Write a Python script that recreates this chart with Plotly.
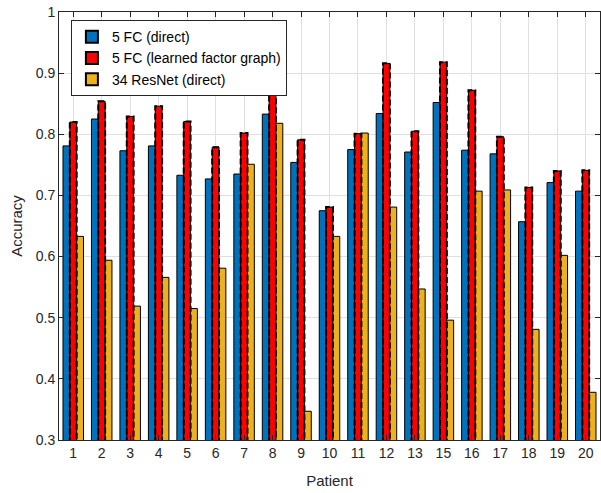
import plotly.graph_objects as go

# Patient IDs (patient 14 is absent)
patients = ["1", "2", "3", "4", "5", "6", "7", "8", "9", "10",
            "11", "12", "13", "15", "16", "17", "18", "19", "20"]

# Accuracy per patient
fc_direct = [0.781, 0.825, 0.773, 0.781, 0.733, 0.727, 0.735, 0.833, 0.754, 0.675,
             0.775, 0.834, 0.771, 0.852, 0.774, 0.768, 0.657, 0.721, 0.707]
fc_factor_graph = [0.820, 0.854, 0.829, 0.846, 0.821, 0.779, 0.802, 0.895, 0.791, 0.681,
                   0.801, 0.916, 0.805, 0.918, 0.872, 0.796, 0.713, 0.740, 0.741]
resnet_direct = [0.633, 0.594, 0.519, 0.566, 0.515, 0.581, 0.751, 0.818, 0.347, 0.633,
                 0.802, 0.681, 0.547, 0.496, 0.707, 0.709, 0.481, 0.602, 0.378]

ytick_vals = [0.3, 0.4, 0.5, 0.6, 0.7, 0.8, 0.9, 1.0]

BLUE = "#0072BD"
RED = "#FF0000"
YELLOW = "#EDB120"
AX = "#262626"
FONT = "Liberation Sans, Arial, sans-serif"

pos = list(range(len(patients)))
w = 0.24  # width of one bar, in category units

fig = go.Figure()

series = [
    ("5 FC (direct)", fc_direct, BLUE),
    ("5 FC (learned factor graph)", fc_factor_graph, RED),
    ("34 ResNet (direct)", resnet_direct, YELLOW),
]

for k, (name, vals, col) in enumerate(series):
    off = -1.5 * w + k * w
    fig.add_trace(go.Bar(
        x=pos, y=vals, width=w, offset=off, name=name,
        marker=dict(color=col, line=dict(color="black", width=1)),
    ))
    if k == 1:
        # dashed black outline around each learned-factor-graph bar
        xs, ys = [], []
        for p, v in zip(pos, vals):
            x0 = p + off
            x1 = x0 + w
            xs += [x0, x0, x1, x1, None]
            ys += [0, v, v, 0, None]
        fig.add_trace(go.Scatter(
            x=xs, y=ys, mode="lines", showlegend=False, hoverinfo="skip",
            line=dict(color="black", width=2, dash="6px,3px"),
        ))

axis_common = dict(
    showline=True, linecolor=AX, linewidth=1, mirror="ticks",
    ticks="inside", ticklen=5, tickcolor=AX,
    showgrid=True, gridcolor="#e0e0e0", gridwidth=1, zeroline=False,
    tickfont=dict(family=FONT, size=14, color=AX),
)

fig.update_xaxes(
    range=[-0.5, len(patients) - 0.5],
    tickmode="array", tickvals=pos, ticktext=patients,
    title=dict(text="Patient", font=dict(family=FONT, size=15, color=AX), standoff=15),
    **axis_common,
)
fig.update_yaxes(
    range=[0.3, 1.0],
    tickmode="array", tickvals=ytick_vals, ticktext=[f"{v:g}" for v in ytick_vals],
    title=dict(text="Accuracy", font=dict(family=FONT, size=15, color=AX), standoff=9),
    **axis_common,
)

fig.update_layout(
    width=601, height=493,
    margin=dict(l=59, r=1, t=12, b=53),
    paper_bgcolor="white", plot_bgcolor="white",
    barmode="overlay",
    showlegend=True,
    legend=dict(
        x=0.022, y=0.981, xanchor="left", yanchor="top",
        bgcolor="white", bordercolor=AX, borderwidth=1,
        font=dict(family=FONT, size=14, color="black"),
        tracegroupgap=0, itemsizing="constant",
    ),
)

fig.write_html("out.html")
